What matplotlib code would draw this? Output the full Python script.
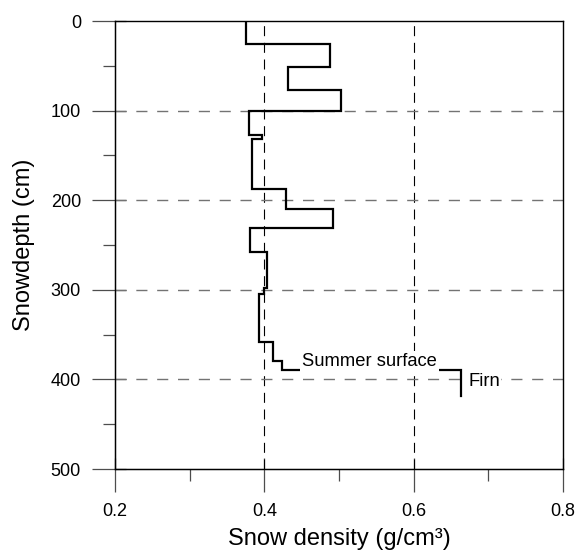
import numpy as np
import matplotlib
matplotlib.use("Agg")
import matplotlib.pyplot as plt
from matplotlib.ticker import MultipleLocator

plt.rcParams['font.family'] = ['Liberation Sans', 'DejaVu Sans']

# layer densities (g/cm3) and layer boundaries (cm), top to bottom
density = [0.375, 0.488, 0.432, 0.503, 0.380, 0.397, 0.384, 0.429,
           0.492, 0.381, 0.403, 0.399, 0.393, 0.411, 0.424, 0.663]
bounds = [0, 26, 51, 77, 100, 127, 132, 187, 210,
          231, 258, 298, 305, 358, 380, 389, 419]

x_ticks = [0.2, 0.4, 0.6, 0.8]
y_ticks = [0, 100, 200, 300, 400, 500]

# step profile vertices
xs = np.repeat(density, 2)
ys = np.column_stack([bounds[:-1], bounds[1:]]).ravel()

fig = plt.figure(figsize=(5.77, 5.52), dpi=100)
ax = fig.add_axes([115/577, 1-469/552, 448/577, 448/552])

ax.plot(xs, ys, color='black', lw=1.6, solid_joinstyle='miter', zorder=3)

ax.set_xlim(0.2, 0.8)
ax.set_ylim(500, 0)
ax.set_xticks(x_ticks)
ax.set_yticks(y_ticks)
ax.set_xticklabels([f"{t:.1f}" for t in x_ticks])
ax.xaxis.set_minor_locator(MultipleLocator(0.1))
ax.yaxis.set_minor_locator(MultipleLocator(50))

# grid
for t in x_ticks[1:-1]:
    ax.axvline(t, color='black', lw=0.8, ls=(0, (9, 6)), zorder=1)
for t in y_ticks[1:-1]:
    ax.axhline(t, color='0.45', lw=1.0, ls=(0, (8, 7)), zorder=1)

for sp in ax.spines.values():
    sp.set_linewidth(1.0)
    sp.set_color('black')

ax.tick_params(which='major', direction='out', length=16.5, width=0.9,
               color='0.3', labelsize=13, pad=8)
ax.tick_params(which='minor', direction='out', length=8.5, width=0.9,
               color='0.3')

# inner halves of the major ticks
sx = ax.secondary_xaxis('bottom')
sx.set_xticks(x_ticks)
sx.tick_params(direction='in', length=8, width=0.9, color='0.3',
               labelbottom=False)
sy = ax.secondary_yaxis('left')
sy.set_yticks(y_ticks)
sy.tick_params(direction='in', length=8, width=0.9, color='0.3',
               labelleft=False)

ax.set_xlabel("Snow density (g/cm³)", fontsize=17, labelpad=6)
ax.set_ylabel("Snowdepth (cm)", fontsize=17, labelpad=11)

ax.text(0.451, 385, "Summer surface", fontsize=13.2, va='baseline',
        ha='left', zorder=4,
        bbox=dict(facecolor='white', edgecolor='none', pad=1.5))
ax.text(0.673, 402, "Firn", fontsize=13.2, va='center', ha='left',
        zorder=4, bbox=dict(facecolor='white', edgecolor='none', pad=0.5))

fig.savefig("out.png", dpi=100)
